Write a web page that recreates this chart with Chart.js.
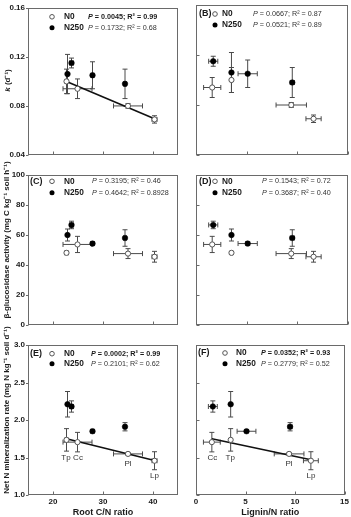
<!DOCTYPE html>
<html lang="en">
  <head>
    <meta charset="UTF-8" />
    <title>Decomposition vs root C/N and lignin/N</title>
    <script src="https://cdn.jsdelivr.net/npm/chart.js@4"></script>
    <style>
      body { margin: 0; background: #fff; }
      #wrap { position: relative; width: 351px; height: 517px; }
      #wrap canvas { position: absolute; left: 0; top: 0; }
    </style>
  </head>
  <body>
    <div id="wrap"></div>
    <script>
      // species order: Tp, Cc, Pl, Lp
      const species = ['Tp', 'Cc', 'Pl', 'Lp'];

      const rootCN_N0 = [22.7, 24.9, 35.0, 40.3];
      const rootCN_N0_err = [0.3, 2.9, 2.9, 0.5];
      const rootCN_N250 = [22.9, 23.7, 34.4, 27.9];
      const rootCN_N250_err = [0.2, 0.4, 0.3, 0.3];

      const ligninN_N0 = [3.5, 1.6, 9.4, 11.6];
      const ligninN_N0_err = [0.1, 0.85, 1.5, 0.75];
      const ligninN_N250 = [3.5, 1.7, 9.5, 5.1];
      const ligninN_N250_err = [0.1, 0.45, 0.2, 0.95];

      const k_N0 = [0.100, 0.094, 0.080, 0.069];
      const k_N0_err = [0.010, 0.008, 0.002, 0.003];
      const k_N250 = [0.106, 0.115, 0.098, 0.105];
      const k_N250_err = [0.016, 0.004, 0.012, 0.011];

      const gluc_N0 = [48.1, 53.7, 47.6, 45.5];
      const gluc_N0_err = [1.0, 5.4, 3.3, 3.6];
      const gluc_N250 = [60.0, 66.7, 58.0, 54.3];
      const gluc_N250_err = [4.0, 2.5, 5.5, 1.2];

      const nmin_N0 = [1.735, 1.705, 1.548, 1.457];
      const nmin_N0_err = [0.15, 0.13, 0.02, 0.12];
      const nmin_N250 = [2.21, 2.18, 1.91, 1.85];
      const nmin_N250_err = [0.17, 0.075, 0.055, 0.02];

      // regression lines (N0 only), end points
      const fitK_CN_x = [22.7, 40.3], fitK_CN_y = [0.1000, 0.0695];
      const fitN_CN_x = [22.7, 40.3], fitN_CN_y = [1.75, 1.46];
      const fitN_LN_x = [1.6, 11.6], fitN_LN_y = [1.75, 1.47];

      const cnTicks = [20, 30, 40];
      const lnTicks = [0, 5, 10, 15];
      const kTicks = [0.04, 0.08, 0.12, 0.16];
      const glucTicks = [0, 20, 40, 60, 80, 100];
      const nminTicks = [1.0, 1.5, 2.0, 2.5, 3.0];

      const statsA = ['= 0.0045; R\u00b2 = 0.99', '= 0.1732; R\u00b2 = 0.68'];
      const statsB = ['= 0.0667; R\u00b2 = 0.87', '= 0.0521; R\u00b2 = 0.89'];
      const statsC = ['= 0.3195; R\u00b2 = 0.46', '= 0.4642; R\u00b2 = 0.8928'];
      const statsD = ['= 0.1543; R\u00b2 = 0.72', '= 0.3687; R\u00b2 = 0.40'];
      const statsE = ['= 0.0002; R\u00b2 = 0.99', '= 0.2101; R\u00b2 = 0.62'];
      const statsF = ['= 0.0352; R\u00b2 = 0.93', '= 0.2779; R\u00b2 = 0.52'];

      const W = 351, H = 517;
      const FONT = '"Liberation Sans", Arial, sans-serif';
      const INK = '#1a1a1a';
      const LINE = '#6a6a6a';

      const X = {
        cn: { n0: rootCN_N0, n0e: rootCN_N0_err, n250: rootCN_N250, n250e: rootCN_N250_err, min: 15, max: 45, ticks: cnTicks, title: 'Root C/N ratio' },
        ln: { n0: ligninN_N0, n0e: ligninN_N0_err, n250: ligninN_N250, n250e: ligninN_N250_err, min: 0, max: 15, ticks: lnTicks, title: 'Lignin/N ratio' }
      };
      const Y = {
        k: { n0: k_N0, n0e: k_N0_err, n250: k_N250, n250e: k_N250_err, min: 0.04, max: 0.16, ticks: kTicks, fmt: v => v.toFixed(2) },
        gluc: { n0: gluc_N0, n0e: gluc_N0_err, n250: gluc_N250, n250e: gluc_N250_err, min: 0, max: 100, ticks: glucTicks, fmt: v => String(v) },
        nmin: { n0: nmin_N0, n0e: nmin_N0_err, n250: nmin_N250, n250e: nmin_N250_err, min: 1, max: 3, ticks: nminTicks, fmt: v => v.toFixed(1) }
      };

      const yTitles = {
        k: { cx: 8, cy: 80.5, parts: [['k', 'italic'], [' (d\u207b\u00b9)', '']] },
        gluc: { cx: 7, cy: 240, parts: [['\u03b2-glucosidase activity (mg C kg\u207b\u00b9 soil h\u207b\u00b9)', '']] },
        nmin: { cx: 7, cy: 410, parts: [['Net N mineralization rate (mg N kg\u207b\u00b9 soil d\u207b\u00b9)', '']] }
      };

      // label offsets under the N0 points in (E) and (F)
      const nameDy = [18, 16, 10, 15];
      const nameDx = [-0.5, 0.5, 0, 0];

      const rows = [[5, 155], [175, 325], [345, 495]];
      const cols = [[28, 178], [196, 348]];

      const panels = [
        { tag: '', x: 'cn', y: 'k', row: 0, col: 0, stats: statsA, bold: [true, false], fit: [fitK_CN_x, fitK_CN_y], leg: { tag: 0, mark: 24, name: 36, p: 60, y1: 9, y2: 20 } },
        { tag: '(B)', x: 'ln', y: 'k', row: 0, col: 1, stats: statsB, bold: [false, false], fit: null, leg: { tag: 3, mark: 19, name: 26, p: 57, y1: 9, y2: 20 } },
        { tag: '(C)', x: 'cn', y: 'gluc', row: 1, col: 0, stats: statsC, bold: [false, false], fit: null, leg: { tag: 2, mark: 24, name: 36, p: 64, y1: 6.3, y2: 17.8 } },
        { tag: '(D)', x: 'ln', y: 'gluc', row: 1, col: 1, stats: statsD, bold: [false, false], fit: null, leg: { tag: 3, mark: 19, name: 26, p: 66, y1: 6.3, y2: 17.8 } },
        { tag: '(E)', x: 'cn', y: 'nmin', row: 2, col: 0, stats: statsE, bold: [true, false], fit: [fitN_CN_x, fitN_CN_y], names: true, leg: { tag: 2, mark: 24, name: 36, p: 63, y1: 8.7, y2: 18.8 } },
        { tag: '(F)', x: 'ln', y: 'nmin', row: 2, col: 1, stats: statsF, bold: [true, false], fit: [fitN_LN_x, fitN_LN_y], names: true, leg: { tag: 2, mark: 29, name: 40, p: 65, y1: 8, y2: 18.8 } }
      ];

      function font(size, weight, style) {
        return (style || '') + ' ' + (weight || 'normal') + ' ' + size + 'px ' + FONT;
      }

      function seg(ctx, x, y, parts, size, weight, color) {
        ctx.fillStyle = color;
        parts.forEach(([t, st]) => {
          ctx.font = font(size, weight, st);
          ctx.fillText(t, x, y);
          x += ctx.measureText(t).width;
        });
      }

      function errBars(ctx, sx, sy, xs, xe, ys, ye) {
        const cap = 2.5;
        ctx.beginPath();
        for (let i = 0; i < xs.length; i++) {
          const px = sx.getPixelForValue(xs[i]), py = sy.getPixelForValue(ys[i]);
          if (ye[i]) {
            const t = sy.getPixelForValue(ys[i] + ye[i]), b = sy.getPixelForValue(ys[i] - ye[i]);
            ctx.moveTo(px, t); ctx.lineTo(px, b);
            ctx.moveTo(px - cap, t); ctx.lineTo(px + cap, t);
            ctx.moveTo(px - cap, b); ctx.lineTo(px + cap, b);
          }
          if (xe[i]) {
            const l = sx.getPixelForValue(xs[i] - xe[i]), r = sx.getPixelForValue(xs[i] + xe[i]);
            ctx.moveTo(l, py); ctx.lineTo(r, py);
            ctx.moveTo(l, py - cap); ctx.lineTo(l, py + cap);
            ctx.moveTo(r, py - cap); ctx.lineTo(r, py + cap);
          }
        }
        ctx.stroke();
      }

      function deco(p) {
        const xd = X[p.x], yd = Y[p.y];
        return {
          id: 'deco',
          beforeDatasetsDraw(chart) {
            const ctx = chart.ctx, sx = chart.scales.x, sy = chart.scales.y;
            ctx.save();
            ctx.strokeStyle = '#4a4a4a';
            ctx.lineWidth = 1;
            errBars(ctx, sx, sy, xd.n250, xd.n250e, yd.n250, yd.n250e);
            errBars(ctx, sx, sy, xd.n0, xd.n0e, yd.n0, yd.n0e);
            ctx.restore();
          },
          afterDraw(chart) {
            const ctx = chart.ctx, a = chart.chartArea, sx = chart.scales.x, sy = chart.scales.y;
            const L = Math.round(a.left) + 0.5, T = Math.round(a.top) + 0.5;
            const R = Math.round(a.right) - 0.5, B = Math.round(a.bottom) - 0.5;
            ctx.save();
            ctx.strokeStyle = LINE;
            ctx.lineWidth = 1;
            ctx.strokeRect(L, T, R - L, B - T);
            // tick marks
            ctx.beginPath();
            xd.ticks.forEach(v => {
              const px = Math.round(sx.getPixelForValue(v)) + 0.5;
              ctx.moveTo(px, B); ctx.lineTo(px, B - 3);
            });
            yd.ticks.forEach(v => {
              const py = Math.round(sy.getPixelForValue(v)) + 0.5;
              if (p.col === 0) { ctx.moveTo(L, py); ctx.lineTo(L - 2.5, py); }
              else { ctx.moveTo(L, py); ctx.lineTo(L + 3, py); }
            });
            ctx.stroke();

            // legend
            ctx.textBaseline = 'middle';
            ctx.textAlign = 'left';
            const bx = a.left, by = a.top, lg = p.leg;
            if (p.tag) seg(ctx, bx + lg.tag, by + lg.y1, [[p.tag, '']], 9, 'bold', INK);
            ctx.beginPath();
            ctx.arc(bx + lg.mark, by + lg.y1, 2.3, 0, Math.PI * 2);
            ctx.fillStyle = '#fff'; ctx.fill();
            ctx.strokeStyle = '#555'; ctx.stroke();
            ctx.beginPath();
            ctx.arc(bx + lg.mark, by + lg.y2, 2.5, 0, Math.PI * 2);
            ctx.fillStyle = '#000'; ctx.fill();
            seg(ctx, bx + lg.name, by + lg.y1, [['N0', '']], 8.3, 'bold', INK);
            seg(ctx, bx + lg.name, by + lg.y2, [['N250', '']], 8.3, 'bold', INK);
            [lg.y1, lg.y2].forEach((yy, i) => {
              const w = p.bold[i] ? 'bold' : 'normal';
              seg(ctx, bx + lg.p, by + yy, [['P', 'italic'], [' ' + p.stats[i], '']], 7.2, w, p.bold[i] ? INK : '#333');
            });

            // species names under the N0 points
            if (p.names) {
              ctx.textAlign = 'center';
              ctx.font = font(8, 'normal');
              ctx.fillStyle = '#333';
              species.forEach((s, i) => {
                ctx.fillText(s, sx.getPixelForValue(xd.n0[i]) + nameDx[i], sy.getPixelForValue(yd.n0[i]) + nameDy[i]);
              });
            }

            // y title for left column
            if (p.col === 0) {
              const yt = yTitles[p.y];
              ctx.translate(yt.cx, yt.cy);
              ctx.rotate(-Math.PI / 2);
              let tw = 0;
              yt.parts.forEach(([t, st]) => { ctx.font = font(8, 'bold', st); tw += ctx.measureText(t).width; });
              ctx.textAlign = 'left';
              seg(ctx, -tw / 2, 0, yt.parts, 8, 'bold', INK);
            }
            ctx.restore();
          }
        };
      }

      function makeChart(p) {
        const cv = document.createElement('canvas');
        cv.width = W; cv.height = H;
        document.getElementById('wrap').appendChild(cv);
        const xd = X[p.x], yd = Y[p.y];
        const [top, bottom] = rows[p.row];
        const [left, right] = cols[p.col];
        const padL = p.col === 0 ? 0 : 186;
        const xh = p.row === 2 ? H - bottom : 5;
        const pts = (a, b) => a.map((v, i) => ({ x: v, y: b[i] }));
        const datasets = [
          { label: 'N0', data: pts(xd.n0, yd.n0), showLine: false, pointRadius: 2.6, pointBackgroundColor: '#fff', pointBorderColor: '#555', pointBorderWidth: 1, order: 0 },
          { label: 'N250', data: pts(xd.n250, yd.n250), showLine: false, pointRadius: 2.8, pointBackgroundColor: '#000', pointBorderColor: '#000', pointBorderWidth: 0.5, order: 1 }
        ];
        if (p.fit) {
          datasets.push({ type: 'line', label: 'fit', data: pts(p.fit[0], p.fit[1]), borderColor: '#111', borderWidth: 1.6, pointRadius: 0, fill: false, order: 2 });
        }
        const tickFont = { family: FONT, size: 8, weight: 'bold' };
        new Chart(cv, {
          type: 'scatter',
          data: { datasets },
          options: {
            responsive: false,
            animation: false,
            devicePixelRatio: 1,
            layout: { autoPadding: false, padding: { left: padL, right: W - right, top: top, bottom: H - bottom - xh } },
            plugins: { legend: { display: false }, tooltip: { enabled: false } },
            scales: {
              x: {
                type: 'linear', position: 'bottom', min: xd.min, max: xd.max,
                grid: { display: false, drawTicks: false }, border: { display: false },
                afterBuildTicks: s => { s.ticks = xd.ticks.map(v => ({ value: v })); },
                afterFit: s => { s.height = xh; },
                ticks: { display: p.row === 2, padding: 2, font: tickFont, color: INK, maxRotation: 0, autoSkip: false },
                title: { display: p.row === 2, text: xd.title, color: INK, padding: 0, font: { family: FONT, size: 9, weight: 'bold', lineHeight: 1 } }
              },
              y: {
                type: 'linear', min: yd.min, max: yd.max,
                grid: { display: false, drawTicks: false }, border: { display: false },
                afterBuildTicks: s => { s.ticks = yd.ticks.map(v => ({ value: v })); },
                afterFit: s => { s.width = left - padL; },
                ticks: { display: p.col === 0, padding: 3, font: tickFont, color: INK, callback: v => yd.fmt(v) }
              }
            }
          },
          plugins: [deco(p)]
        });
      }

      panels.forEach(makeChart);
    </script>
  </body>
</html>
